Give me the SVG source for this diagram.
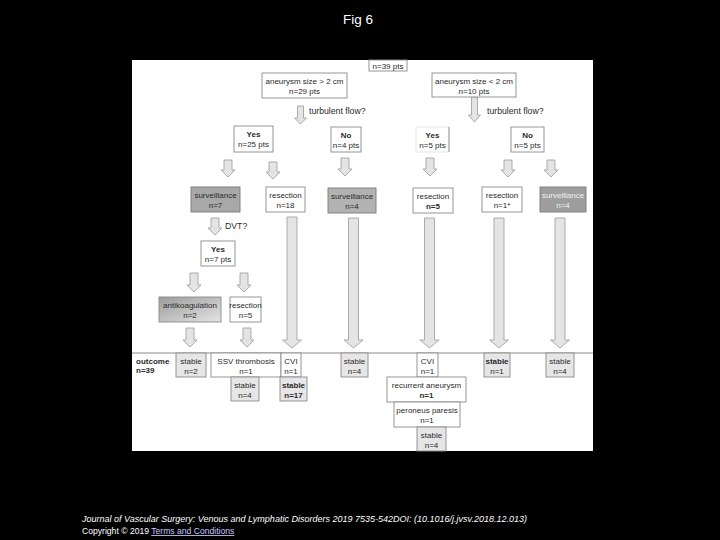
<svg xmlns="http://www.w3.org/2000/svg" width="720" height="540" viewBox="0 0 720 540">
<style>
text{font-family:"Liberation Sans",Arial,sans-serif;fill:#2a2a2a;font-size:8px}
.c{text-anchor:middle}
.b{font-weight:bold}
.q{font-size:8.7px}
.box{fill:#fff;stroke:#8a8a8a;stroke-width:0.9}
.dark{fill:#a8a8a8;stroke:#7a7a7a;stroke-width:0.9}
.lite{fill:#e6e6e6;stroke:#8a8a8a;stroke-width:0.9}
.arr{fill:#e4e4e4;stroke:#9a9a9a;stroke-width:0.8}
.title{fill:#fff;font-size:13.5px}
.foot{fill:#fff;font-size:8.6px}
</style>
<defs>
<linearGradient id="ag" x1="0" y1="0" x2="1" y2="1">
<stop offset="0" stop-color="#9c9c9c"/>
<stop offset="1" stop-color="#e4e4e4"/>
</linearGradient>
</defs>
<rect width="720" height="540" fill="#000"/>
<text class="title c" x="358" y="24">Fig 6</text>
<rect x="132" y="60" width="461" height="391" fill="#fff"/>
<line x1="132" y1="353" x2="593" y2="353" stroke="#8a8a8a" stroke-width="1"/>

<g id="connectors">
<path class="arr" d="M297.5,106H303.5V118H306.5L300.5,124L294.5,118H297.5Z"/>
<path class="arr" d="M471.5,97H477.5V115H480.5L474.5,122L468.5,115H471.5Z"/>
<path class="arr" d="M224,160H232V170H235L228,177L221,170H224Z"/>
<path class="arr" d="M269,162H277V172H280L273,179L266,172H269Z"/>
<path class="arr" d="M341,158H349V169H352L345,176L338,169H341Z"/>
<path class="arr" d="M426,158H434V169H437L430,176L423,169H426Z"/>
<path class="arr" d="M504,160H512V170H515L508,177L501,170H504Z"/>
<path class="arr" d="M547,160H555V170H558L551,177L544,170H547Z"/>
<path class="arr" d="M211,218H219V228H222L215,235L208,228H211Z"/>
<path class="arr" d="M190,273H198V285H201L194,292L187,285H190Z"/>
<path class="arr" d="M240,273H248V285H251L244,292L237,285H240Z"/>
<path class="arr" d="M186,328H194V340H197L190,347L183,340H186Z"/>
<path class="arr" d="M243,328H251V340H254L247,347L240,340H243Z"/>
<path class="arr" d="M287,217H297V340H301.5L292,348L282.5,340H287Z"/>
<path class="arr" d="M348.5,218H358.5V340H363L353.5,348L344,340H348.5Z"/>
<path class="arr" d="M424.5,218H434.5V340H439L429.5,348L420,340H424.5Z"/>
<path class="arr" d="M494,218H504V340H508.5L499,348L489.5,340H494Z"/>
<path class="arr" d="M555,218H565V340H569.5L560,348L550.5,340H555Z"/>
<text class="q" x="309" y="114">turbulent flow?</text>
<text class="q" x="487" y="114">turbulent flow?</text>
<text class="q" x="225" y="229">DVT?</text>
</g>

<g id="n-total"><rect class="box" x="369" y="60" width="38" height="11"/><text class="c" x="388" y="68.5" font-size="7.5">n=39 pts</text></g>
<g id="n-big"><rect class="box" x="262" y="73" width="85" height="25"/><text class="c" x="304.5" y="84">aneurysm size &gt; 2 cm</text><text class="c" x="304.5" y="94">n=29 pts</text></g>
<g id="n-small"><rect class="box" x="432" y="73" width="84" height="24"/><text class="c" x="474" y="84">aneurysm size &lt; 2 cm</text><text class="c" x="474" y="94">n=10 pts</text></g>

<g id="n-yes25"><rect class="box" x="234" y="126" width="39" height="26"/><text class="c b" x="253.5" y="137">Yes</text><text class="c" x="253.5" y="147">n=25 pts</text></g>
<g id="n-no4"><rect class="box" x="331" y="127" width="30" height="25"/><text class="c b" x="346" y="138">No</text><text class="c" x="346" y="148">n=4 pts</text></g>
<g id="n-yes5"><rect x="416" y="127" width="33" height="25" fill="#fff" stroke="#e2e2e2" stroke-width="0.9"/><line x1="449" y1="127" x2="449" y2="152" stroke="#8a8a8a" stroke-width="0.9"/><text class="c b" x="432.5" y="138">Yes</text><text class="c" x="432.5" y="148">n=5 pts</text></g>
<g id="n-no5"><rect class="box" x="511" y="127" width="33" height="25"/><text class="c b" x="527.5" y="138">No</text><text class="c" x="527.5" y="148">n=5 pts</text></g>

<g id="n-surv7"><rect class="dark" x="191" y="187" width="49" height="25"/><text class="c" x="215.5" y="198">surveillance</text><text class="c" x="215.5" y="208">n=7</text></g>
<g id="n-res18"><rect class="box" x="266" y="187" width="39" height="25"/><text class="c" x="285.5" y="198">resection</text><text class="c" x="285.5" y="208">n=18</text></g>
<g id="n-surv4a"><rect class="dark" x="328" y="188" width="48" height="25" style="fill:#b2b2b2"/><text class="c" x="352" y="199">surveillance</text><text class="c" x="352" y="209">n=4</text></g>
<g id="n-res5a"><rect class="box" x="413" y="188" width="40" height="25"/><text class="c" x="433" y="199">resection</text><text class="c b" x="433" y="209">n=5</text></g>
<g id="n-res1"><rect class="box" x="482" y="187" width="40" height="25"/><text class="c" x="502" y="198">resection</text><text class="c" x="502" y="208">n=1*</text></g>
<g id="n-surv4b"><rect class="dark" x="540" y="187" width="46" height="25" style="fill:#9e9e9e"/><text class="c" x="563" y="198" style="fill:#f2f2f2">surveillance</text><text class="c" x="563" y="208" style="fill:#f2f2f2">n=4</text></g>

<g id="n-yes7"><rect class="box" x="201" y="241" width="34" height="25"/><text class="c b" x="218" y="252">Yes</text><text class="c" x="218" y="262">n=7 pts</text></g>
<g id="n-anti"><rect x="159" y="297" width="62" height="25" fill="url(#ag)" stroke="#8a8a8a" stroke-width="0.9"/><text class="c" x="190" y="308">antikoagulation</text><text class="c" x="190" y="318">n=2</text></g>
<g id="n-res5b"><rect class="box" x="230" y="297" width="31" height="25"/><text class="c" x="245.5" y="308">resection</text><text class="c" x="245.5" y="318">n=5</text></g>

<g id="n-outcome"><text class="b" x="136" y="364">outcome</text><text class="b" x="136" y="373">n=39</text></g>
<g id="o-stable2"><rect class="lite" x="176" y="353" width="30" height="24"/><text class="c" x="191" y="363.5">stable</text><text class="c" x="191" y="373.5">n=2</text></g>
<g id="o-ssv"><rect class="box" x="211" y="353" width="70" height="24"/><text class="c" x="246" y="363.5">SSV thrombosis</text><text class="c" x="246" y="373.5">n=1</text></g>
<g id="o-stable4a"><rect class="lite" x="231" y="377" width="28" height="24"/><text class="c" x="245" y="388">stable</text><text class="c" x="245" y="398">n=4</text></g>
<g id="o-cvi1"><rect class="box" x="281" y="353" width="20" height="24"/><text class="c" x="291" y="363.5">CVI</text><text class="c" x="291" y="373.5">n=1</text></g>
<g id="o-stable17"><rect class="lite" x="280" y="377" width="27" height="24"/><text class="c b" x="293.5" y="388">stable</text><text class="c b" x="293.5" y="398">n=17</text></g>
<g id="o-stable4b"><rect class="lite" x="341" y="353" width="27" height="24"/><text class="c" x="354.5" y="363.5">stable</text><text class="c" x="354.5" y="373.5">n=4</text></g>
<g id="o-cvi2"><rect class="box" x="417" y="353" width="21" height="24"/><text class="c" x="427.5" y="363.5">CVI</text><text class="c" x="427.5" y="373.5">n=1</text></g>
<g id="o-recur"><rect class="box" x="387" y="377" width="79" height="25"/><text class="c" x="426.5" y="388">recurrent aneurysm</text><text class="c b" x="426.5" y="398">n=1</text></g>
<g id="o-pero"><rect class="box" x="394" y="402" width="66" height="25"/><text class="c" x="427" y="413">peroneus paresis</text><text class="c" x="427" y="423">n=1</text></g>
<g id="o-stable4c"><rect class="lite" x="417" y="427" width="29" height="24"/><text class="c" x="431.5" y="438">stable</text><text class="c" x="431.5" y="448">n=4</text></g>
<g id="o-stable1"><rect class="lite" x="484" y="353" width="26" height="24"/><text class="c b" x="497" y="363.5">stable</text><text class="c" x="497" y="373.5">n=1</text></g>
<g id="o-stable4d"><rect class="lite" x="546" y="353" width="28" height="24"/><text class="c" x="560" y="363.5">stable</text><text class="c" x="560" y="373.5">n=4</text></g>

<text class="foot" x="82" y="522" font-style="italic" textLength="445" lengthAdjust="spacingAndGlyphs">Journal of Vascular Surgery: Venous and Lymphatic Disorders 2019 7535-542DOI: (10.1016/j.jvsv.2018.12.013)</text>
<text class="foot" x="82" y="534">Copyright © 2019 <tspan fill="#c8c8ff" text-decoration="underline">Terms and Conditions</tspan></text>
</svg>
